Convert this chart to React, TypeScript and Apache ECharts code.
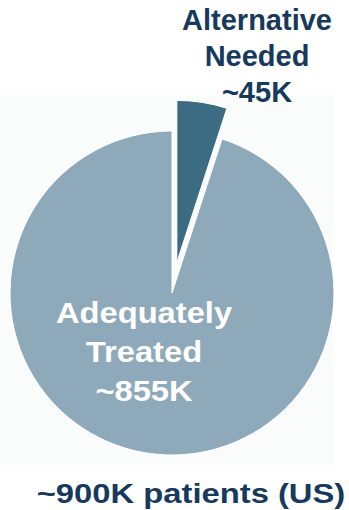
import React, { useEffect, useRef } from "react";
import * as echarts from "echarts";

const categories = ["Alternative Needed", "Adequately Treated"];
const values = [45, 855];
const valueLabels = ["~45K", "~855K"];
const sliceColors = ["#3c6c81", "#8eaaba"];
const totalLabel = "~900K patients (US)";

export default function App() {
  const ref = useRef<HTMLDivElement>(null);
  useEffect(() => {
    document.body.style.margin = "0";
    if (!ref.current) return;
    const chart = echarts.init(ref.current, null, { renderer: "svg" });
    const font = "'Liberation Sans', Arial, sans-serif";
    const labelText = (i: number) => categories[i].split(" ").join("\n") + "\n" + valueLabels[i];
    chart.setOption({
      animation: false,
      backgroundColor: "#ffffff",
      graphic: [
        {
          type: "rect",
          z: 0,
          shape: { x: 0, y: 95, width: 333, height: 370 },
          style: { fill: "#fafbfb" },
          silent: true,
        },
        {
          type: "text",
          z: 100,
          x: 257,
          y: 56,
          style: {
            text: labelText(0),
            fill: "#173a5c",
            font: `bold 29px ${font}`,
            textAlign: "center",
            textVerticalAlign: "middle",
            lineHeight: 36,
          },
        },
        {
          type: "text",
          z: 100,
          x: 144,
          y: 352,
          scaleX: 1.09,
          style: {
            text: labelText(1),
            fill: "#ffffff",
            font: `bold 30px ${font}`,
            textAlign: "center",
            textVerticalAlign: "middle",
            lineHeight: 39,
          },
        },
        {
          type: "text",
          z: 100,
          x: 191,
          y: 493,
          scaleX: 1.17,
          style: {
            text: totalLabel,
            fill: "#173a5c",
            font: `bold 28px ${font}`,
            textAlign: "center",
            textVerticalAlign: "middle",
          },
        },
      ],
      series: [
        {
          type: "pie",
          z: 5,
          center: [172, 293],
          radius: [0, 162],
          startAngle: 90,
          clockwise: true,
          selectedMode: "single",
          selectedOffset: 31,
          label: { show: false },
          labelLine: { show: false },
          emphasis: { disabled: true },
          itemStyle: { borderColor: "#ffffff", borderWidth: 1 },
          data: categories.map((name, i) => ({
            name,
            value: values[i],
            selected: i === 0,
            itemStyle: { color: sliceColors[i] },
            select: { itemStyle: { color: sliceColors[i], borderColor: "#ffffff", borderWidth: 1 } },
          })),
        },
      ],
    });
    return () => chart.dispose();
  }, []);
  return <div ref={ref} style={{ width: 349, height: 510 }} />;
}
